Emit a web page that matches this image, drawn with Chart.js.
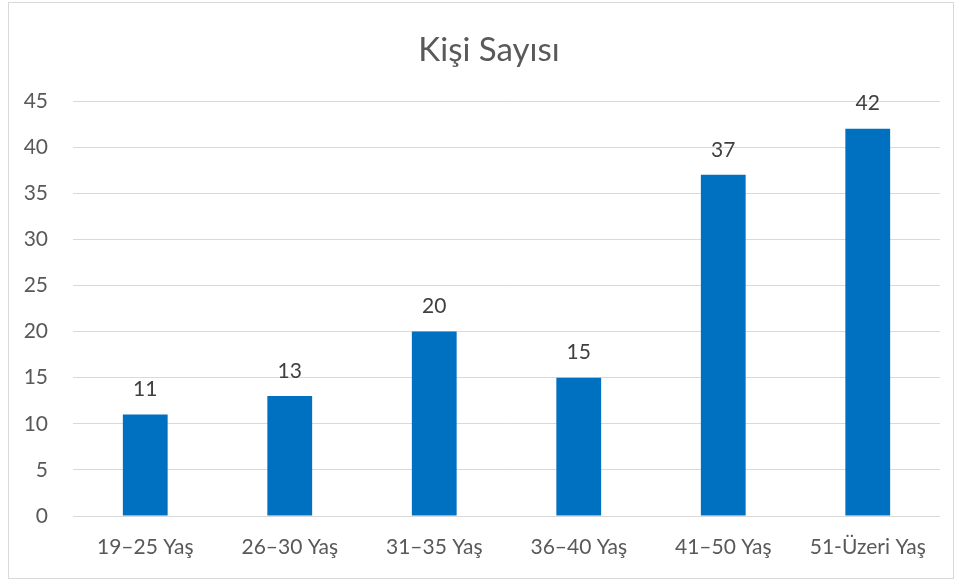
<!DOCTYPE html>
<html>
<head>
<meta charset="utf-8">
<script src="https://cdn.jsdelivr.net/npm/chart.js@4/dist/chart.umd.min.js"></script>
<style>
  html, body { margin: 0; padding: 0; background: #fff; }
  #frame {
    position: absolute; left: 8px; top: 2px;
    width: 944px; height: 575px;
    border: 1px solid #d9d9d9;
  }
  canvas { display: block; }
</style>
</head>
<body>
<div id="frame"><canvas id="chart" width="944" height="575"></canvas></div>
<script>
// chart data
const categories = ['19–25 Yaş', '26–30 Yaş', '31–35 Yaş', '36–40 Yaş', '41–50 Yaş', '51-Üzeri Yaş'];
const personCounts = [11, 13, 20, 15, 37, 42];
const chartTitle = 'Kişi Sayısı';
const yMax = 45;
const yStep = 5;

const FONT = 'Lato, "Open Sans", sans-serif';

// title (sits a little right of centre, like the original) and value labels above bars
const valueLabels = {
  id: 'valueLabels',
  afterDatasetsDraw(chart) {
    const ctx = chart.ctx;
    const meta = chart.getDatasetMeta(0);
    ctx.save();
    ctx.textAlign = 'center';
    ctx.textBaseline = 'middle';

    ctx.font = '33px ' + FONT;
    ctx.fillStyle = '#595959';
    ctx.fillText(chartTitle, 480, 47);

    ctx.font = '21px ' + FONT;
    ctx.fillStyle = '#404040';
    meta.data.forEach((bar, i) => {
      ctx.fillText(String(personCounts[i]), bar.x, bar.y - 25);
    });
    ctx.restore();
  }
};

new Chart(document.getElementById('chart'), {
  type: 'bar',
  data: {
    labels: categories,
    datasets: [{
      label: chartTitle,
      data: personCounts,
      backgroundColor: '#0070C0',
      borderWidth: 0,
      barPercentage: 0.31,
      categoryPercentage: 1
    }]
  },
  options: {
    responsive: false,
    animation: false,
    layout: { padding: { left: 0, right: 13, top: 98, bottom: 0 } },
    plugins: {
      legend: { display: false },
      tooltip: { enabled: false },
      title: { display: false }
    },
    scales: {
      x: {
        grid: { display: false, drawTicks: false },
        border: { display: false },
        ticks: {
          color: '#595959',
          font: { family: FONT, size: 21 },
          padding: 19,
          maxRotation: 0
        },
        afterFit: s => { s.height = 62; }
      },
      y: {
        min: 0,
        max: yMax,
        grid: { color: '#d9d9d9', lineWidth: 1, drawTicks: false },
        border: { display: false },
        ticks: {
          stepSize: yStep,
          color: '#595959',
          font: { family: FONT, size: 21 },
          padding: 25
        },
        afterFit: s => { s.width = 64; }
      }
    }
  },
  plugins: [valueLabels]
});
</script>
</body>
</html>
